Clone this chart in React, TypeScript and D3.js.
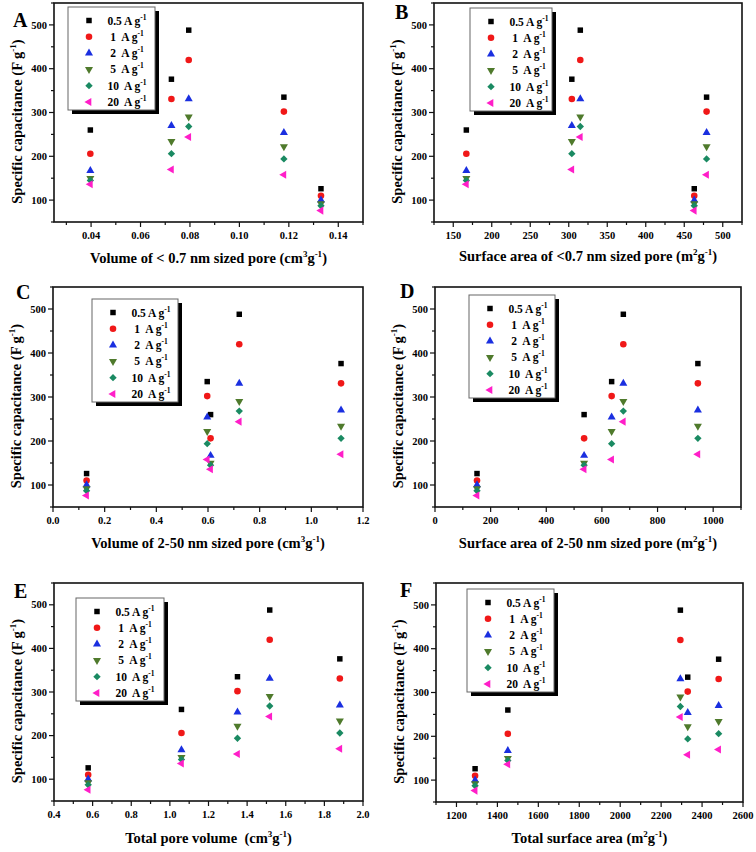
import React from "react";
import * as d3 from "d3";

// ---------- data ----------
const rates = ["0.5", "1", "2", "5", "10", "20"];
// capacitance (F/g) of the five samples at each current density
const cap05 = [126, 260, 376, 488, 335];
const cap1 = [110, 206, 331, 420, 302];
const cap2 = [100, 167, 270, 331, 254];
const cap5 = [92, 150, 234, 290, 222];
const cap10 = [87, 145, 206, 268, 194];
const cap20 = [76, 136, 170, 244, 158];
const capSeries = [cap05, cap1, cap2, cap5, cap10, cap20];

// x properties of the five samples
const volMicro = [0.133, 0.0397, 0.0725, 0.0795, 0.118];
const areaMicro = [463, 167, 304, 315, 479];
const volMeso = [0.13, 0.61, 1.115, 0.721, 0.597];
const areaMeso = [151, 536, 945, 677, 635];
const volTotal = [0.577, 1.06, 1.88, 1.517, 1.35];
const areaTotal = [1291, 1451, 2481, 2294, 2330];

const yTicks = [100, 200, 300, 400, 500];
const yMinor = [50, 150, 250, 350, 450, 550];
const xTicksA = [0.04, 0.06, 0.08, 0.1, 0.12, 0.14];
const xMinorA = [0.03, 0.05, 0.07, 0.09, 0.11, 0.13, 0.15];
const xTicksB = [150, 200, 250, 300, 350, 400, 450, 500];
const xMinorB = [125, 175, 225, 275, 325, 375, 425, 475, 525];
const xTicksC = [0, 0.2, 0.4, 0.6, 0.8, 1.0, 1.2];
const xMinorC = [0.1, 0.3, 0.5, 0.7, 0.9, 1.1];
const xTicksD = [0, 200, 400, 600, 800, 1000];
const xMinorD = [100, 300, 500, 700, 900, 1100];
const xTicksE = [0.4, 0.6, 0.8, 1.0, 1.2, 1.4, 1.6, 1.8, 2.0];
const xMinorE = [0.5, 0.7, 0.9, 1.1, 1.3, 1.5, 1.7, 1.9];
const xTicksF = [1200, 1400, 1600, 1800, 2000, 2200, 2400, 2600];
const xMinorF = [1100, 1300, 1500, 1700, 1900, 2100, 2300, 2500];

// ---------- styles ----------
const colors = ["#000000", "#f01818", "#1a2fe0", "#4f7a2c", "#1a8a62", "#ff1ec8"];
const shapes = ["square", "circle", "up", "down", "diamond", "left"];
const FONT = "'Liberation Serif', 'Times New Roman', serif";

type Panel = {
  letter: string;
  xs: number[];
  xDomain: [number, number];
  ticks: number[];
  minor: number[];
  fmt: (v: number) => string;
  title: string;
  unitSup: string;
  rect: [number, number, number, number]; // left, top, right, bottom
  legend: [number, number, number];
  letterPos: [number, number];
  titleDy: number;
};

const panels: Panel[] = [
  {
    letter: "A", xs: volMicro, xDomain: [0.025, 0.15], ticks: xTicksA, minor: xMinorA,
    fmt: d3.format(".2f"), title: "Volume of < 0.7 nm sized pore (cm", unitSup: "3",
    rect: [54, 3, 363, 222], legend: [68, 7, 87], letterPos: [13, 27], titleDy: 41,
  },
  {
    letter: "B", xs: areaMicro, xDomain: [125, 525], ticks: xTicksB, minor: xMinorB,
    fmt: d3.format("d"), title: "Surface area of <0.7 nm sized pore (m", unitSup: "2",
    rect: [434, 3, 742, 222], legend: [470, 8, 82], letterPos: [395, 19], titleDy: 39,
  },
  {
    letter: "C", xs: volMeso, xDomain: [0, 1.2], ticks: xTicksC, minor: xMinorC,
    fmt: d3.format(".1f"), title: "Volume of 2-50 nm sized pore (cm", unitSup: "3",
    rect: [53, 287, 363, 507], legend: [92, 299, 86], letterPos: [16, 299], titleDy: 41,
  },
  {
    letter: "D", xs: areaMeso, xDomain: [0, 1100], ticks: xTicksD, minor: xMinorD,
    fmt: d3.format("d"), title: "Surface area of 2-50 nm sized pore (m", unitSup: "2",
    rect: [435, 287, 741, 507], legend: [469, 295, 86], letterPos: [400, 298], titleDy: 41,
  },
  {
    letter: "E", xs: volTotal, xDomain: [0.4, 2.0], ticks: xTicksE, minor: xMinorE,
    fmt: d3.format(".1f"), title: "Total pore volume  (cm", unitSup: "3",
    rect: [54, 583, 363, 801], legend: [76, 598, 88], letterPos: [14, 598], titleDy: 42,
  },
  {
    letter: "F", xs: areaTotal, xDomain: [1100, 2600], ticks: xTicksF, minor: xMinorF,
    fmt: d3.format("d"), title: "Total surface area (m", unitSup: "2",
    rect: [436, 583, 743, 802], legend: [467, 589, 87], letterPos: [400, 597], titleDy: 41,
  },
];

function Marker({ kind, x, y, color }: { kind: string; x: number; y: number; color: string }) {
  let type: d3.SymbolType = d3.symbolSquare;
  let size = 30;
  let rot = 0;
  if (kind === "circle") { type = d3.symbolCircle; size = 34; }
  else if (kind === "up") { type = d3.symbolTriangle; size = 28; }
  else if (kind === "down") { type = d3.symbolTriangle; size = 28; rot = 180; }
  else if (kind === "left") { type = d3.symbolTriangle; size = 28; rot = -90; }
  else if (kind === "diamond") { type = d3.symbolSquare; size = 27; rot = 45; }
  const path = d3.symbol().type(type).size(size)() as string;
  return <path d={path} fill={color} transform={`translate(${x},${y}) rotate(${rot})`} />;
}

function ChartPanel({ p }: { p: Panel }) {
  const [l, t, r, b] = p.rect;
  const x = d3.scaleLinear().domain(p.xDomain).range([l, r]);
  const y = d3.scaleLinear().domain([50, 550]).range([b, t]);
  const cx = (l + r) / 2;
  const cy = (t + b) / 2 + 9;
  const [lx, ly, lw] = p.legend;
  const lh = 103;
  return (
    <g fontFamily={FONT} fontWeight="bold">
      {/* points */}
      {capSeries.map((vals, si) =>
        vals.map((v, i) => (
          <Marker key={`${si}-${i}`} kind={shapes[si]} x={x(p.xs[i])} y={y(v)} color={colors[si]} />
        ))
      )}
      {/* frame */}
      <rect x={l} y={t} width={r - l} height={b - t} fill="none" stroke="#111" strokeWidth={1.6} />
      {/* y ticks */}
      {yTicks.map((v) => (
        <g key={`y${v}`}>
          <line x1={l} x2={l - 5} y1={y(v)} y2={y(v)} stroke="#111" strokeWidth={1.2} />
          <text x={l - 7} y={y(v)} dy="0.35em" textAnchor="end" fontSize={10.5}>{v}</text>
        </g>
      ))}
      {yMinor.map((v) => (
        <line key={`ym${v}`} x1={l} x2={l - 3} y1={y(v)} y2={y(v)} stroke="#111" strokeWidth={1.2} />
      ))}
      {/* x ticks */}
      {p.ticks.map((v) => (
        <g key={`x${v}`}>
          <line x1={x(v)} x2={x(v)} y1={b} y2={b + 5} stroke="#111" strokeWidth={1.2} />
          <text x={x(v)} y={b + 17} textAnchor="middle" fontSize={10.5}>{p.fmt(v)}</text>
        </g>
      ))}
      {p.minor.map((v) => (
        <line key={`xm${v}`} x1={x(v)} x2={x(v)} y1={b} y2={b + 3} stroke="#111" strokeWidth={1.2} />
      ))}
      {/* x title */}
      <text x={cx} y={b + p.titleDy} textAnchor="middle" fontSize={14.5} style={{ whiteSpace: "pre" }}>
        {p.title}
        <tspan fontSize={9} dy={-6}>{p.unitSup}</tspan>
        <tspan dy={6}>g</tspan>
        <tspan fontSize={9} dy={-6}>-1</tspan>
        <tspan dy={6}>)</tspan>
      </text>
      {/* y title */}
      <text transform={`translate(${l - 32},${cy}) rotate(-90)`} textAnchor="middle" fontSize={14.5}>
        Specific capacitance (F g
        <tspan fontSize={9} dy={-6}>-1</tspan>
        <tspan dy={6}>)</tspan>
      </text>
      {/* panel letter */}
      <text x={p.letterPos[0]} y={p.letterPos[1]} fontSize={20}>{p.letter}</text>
      {/* legend */}
      <rect x={lx + 4} y={ly + 4} width={lw} height={lh} fill="#000" />
      <rect x={lx} y={ly} width={lw} height={lh} fill="#fff" stroke="#666" strokeWidth={1} />
      {rates.map((rt, i) => {
        const yy = ly + 13.5 + i * 16.3;
        const lab = rt === "0.5" ? "0.5 A g" : `${rt}  A g`;
        return (
          <g key={`lg${i}`}>
            <Marker kind={shapes[i]} x={lx + 21} y={yy} color={colors[i]} />
            <text x={lx + 59} y={yy} dy="0.35em" textAnchor="middle" fontSize={11.5} style={{ whiteSpace: "pre" }}>
              {lab}
              <tspan fontSize={7.5} dy={-5}>-1</tspan>
            </text>
          </g>
        );
      })}
    </g>
  );
}

export default function App() {
  return (
    <svg
      width={756}
      height={852}
      viewBox="0 0 756 852"
      style={{ position: "absolute", left: 0, top: 0, background: "#fff" }}
    >
      <rect x={0} y={0} width={756} height={852} fill="#fff" />
      {panels.map((p) => (
        <ChartPanel key={p.letter} p={p} />
      ))}
    </svg>
  );
}
